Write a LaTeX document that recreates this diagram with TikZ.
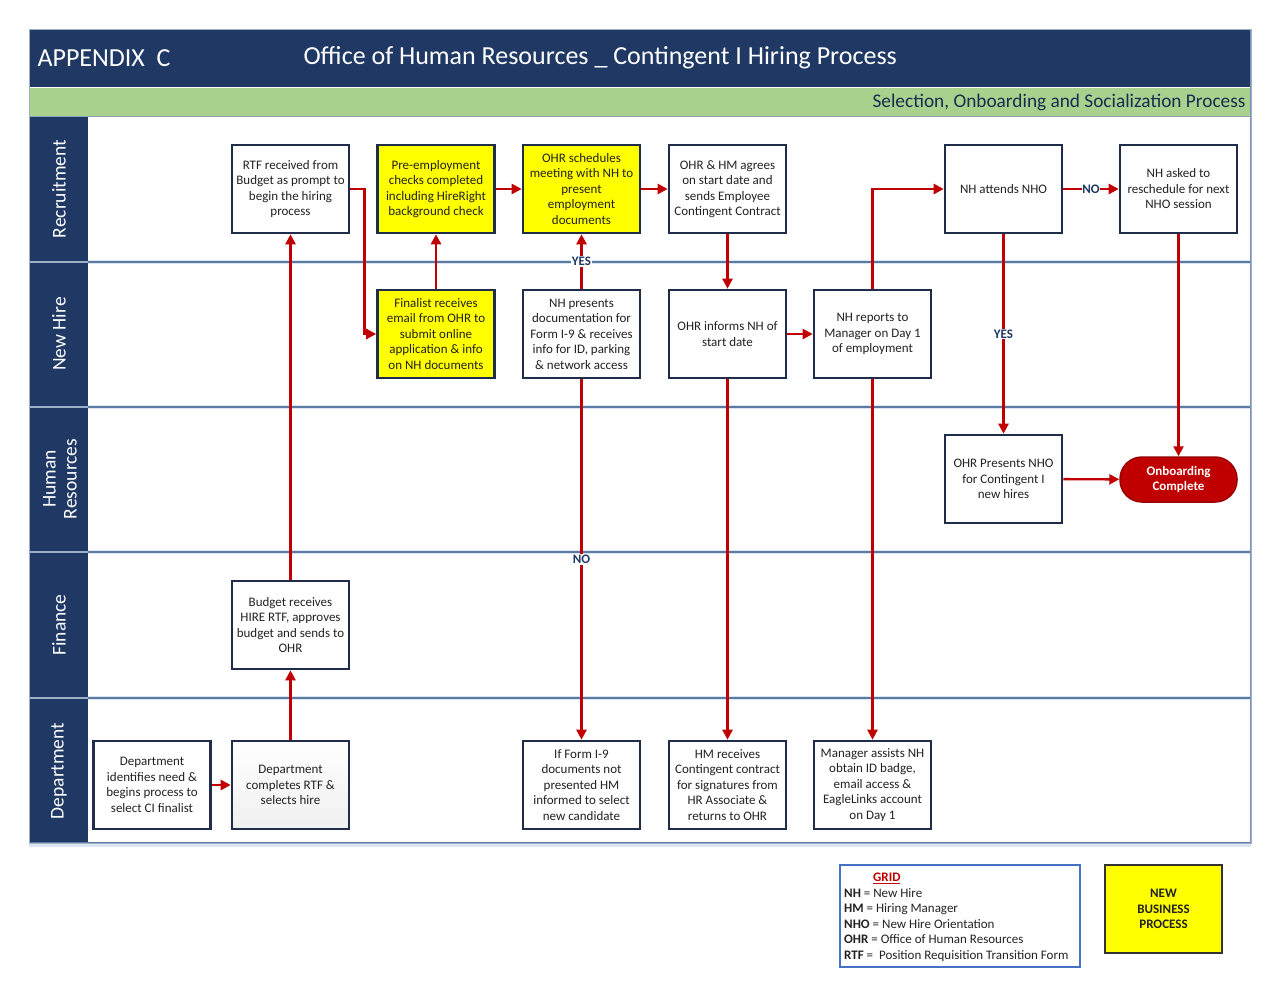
\documentclass[tikz,border=0pt]{standalone}
\usepackage{fontspec}
\setmainfont{Carlito}
\usetikzlibrary{arrows.meta,calc}
\definecolor{navy}{HTML}{1F3864}
\definecolor{greenband}{HTML}{A9D18E}
\definecolor{laneline}{HTML}{5B7BA3}
\definecolor{laneglow}{HTML}{DCE6F2}
\definecolor{boxborder}{HTML}{1F2D4A}
\definecolor{flowred}{HTML}{C00000}
\definecolor{txt}{HTML}{222222}
\definecolor{legblue}{HTML}{4472C4}
\definecolor{newyellow}{HTML}{FFFF00}
\begin{document}
\begin{tikzpicture}[x=1pt,y=-1pt,
  stepbox/.style={draw=boxborder, line width=2.6pt, fill=white, minimum width=117, minimum height=88,
    inner sep=0pt, align=center, text=txt, font=\fontsize{13}{15.5}\selectfont},
  newbox/.style={stepbox, fill=newyellow},
  arr/.style={draw=flowred, line width=2.4pt, -{Triangle[length=10pt,width=10pt]}},
  lbl/.style={fill=white, inner sep=1pt, text=navy, font=\fontsize{13}{14}\selectfont\bfseries},
  lanetext/.style={rotate=90, text=white, align=center, font=\fontsize{19.5}{21}\selectfont}
]
\useasboundingbox (0,0) rectangle (1280,989);
% frame and bands
\fill[white] (29,29) rectangle (1251,843);
\fill[navy] (29,29) rectangle (1251,87);
\fill[greenband] (29,88) rectangle (1251,116);
\draw[laneline!70, line width=1pt] (29,116.5) -- (1251,116.5);
\fill[navy] (29,117) rectangle (88,843);
\foreach \yy in {262,407,552,698}{
  \draw[laneglow, line width=4pt] (88,\yy) -- (1251,\yy);
  \draw[laneline, line width=1.8pt] (88,\yy) -- (1251,\yy);
  \draw[laneline!60, line width=1.2pt] (29,\yy) -- (88,\yy);
}
\draw[laneglow, line width=3pt] (29,845) -- (1251,845);
\draw[laneline, line width=1.8pt] (29,843) -- (1251,843);
\draw[laneline!80, line width=1.8pt] (1251,29) -- (1251,843);
\draw[laneline!60, line width=1pt] (29,29) rectangle (1251,843);
% header texts
\node[anchor=west, text=white, font=\fontsize{26}{28}\selectfont] (appx) at (34,58) {APPENDIX\ \ C};
\node[anchor=west, text=white, font=\fontsize{26}{28}\selectfont] (title) at (300,58) {Office of Human Resources \_ Contingent I Hiring Process};
\node[anchor=east, text=navy!80!black, font=\fontsize{19.3}{21}\selectfont] (sub) at (1249,102) {Selection, Onboarding and Socialization Process};
% lane labels
\node[lanetext] (l1) at (59,189) {Recruitment};
\node[lanetext] (l2) at (59,334) {New Hire};
\node[lanetext] (l3) at (60,479) {Human\\Resources};
\node[lanetext] (l4) at (59,625) {Finance};
\node[lanetext] (l5) at (59,771) {Department};
% boxes
\node[stepbox] (rtf) at (290.5,189) {RTF received from\\Budget as prompt to\\begin the hiring\\process};
\node[newbox] (pre) at (436,189) {Pre-employment\\checks completed\\including HireRight\\background check};
\node[newbox] (sched) at (581.5,189) {OHR schedules\\meeting with NH to\\present\\employment\\documents};
\node[stepbox] (agree) at (727.5,189) {OHR \& HM agrees\\on start date and\\sends Employee\\Contingent Contract};
\node[stepbox] (attend) at (1003.5,189) {NH attends NHO};
\node[stepbox] (resched) at (1178.5,189) {NH asked to\\reschedule for next\\NHO session};
\node[newbox] (final) at (436,334) {Finalist receives\\email from OHR to\\submit online\\application \& info\\on NH documents};
\node[stepbox] (pres) at (581.5,334) {NH presents\\documentation for\\Form I-9 \& receives\\info for ID, parking\\\& network access};
\node[stepbox] (inform) at (727.5,334) {OHR informs NH of\\start date};
\node[stepbox] (report) at (872.5,334) {NH reports to\\Manager on Day 1\\of employment};
\node[stepbox] (nho) at (1003.5,479) {OHR Presents NHO\\for Contingent I\\new hires};
\node[draw=flowred!80!black, line width=1.5pt, fill=flowred, rounded corners=22pt, minimum width=117, minimum height=45,
  inner sep=0pt, align=center, text=white, font=\fontsize{13}{15.5}\selectfont\bfseries] (done) at (1178.5,479.5) {Onboarding\\Complete};
\node[stepbox] (budget) at (290.5,625) {Budget receives\\HIRE RTF, approves\\budget and sends to\\OHR};
\node[stepbox] (deptid) at (152,785) {Department\\identifies need \&\\begins process to\\select CI finalist};
\node[stepbox, top color=white, bottom color=gray!12] (deptc) at (290.5,785) {Department\\completes RTF \&\\selects hire};
\node[stepbox] (i9) at (581.5,785) {If Form I-9\\documents not\\presented HM\\informed to select\\new candidate};
\node[stepbox] (hm) at (727.5,785) {HM receives\\Contingent contract\\for signatures from\\HR Associate \&\\returns to OHR};
\node[stepbox] (mgr) at (872.5,785) {Manager assists NH\\obtain ID badge,\\email access \&\\EagleLinks account\\on Day 1};
% connectors
\draw[arr] (deptid) -- (deptc);
\draw[arr] (deptc) -- (budget);
\draw[arr] (budget) -- (rtf);
\draw[arr] (rtf.east) -- ++(14,0) |- (final.west);
\draw[arr] (final) -- (pre);
\draw[arr] (pre) -- (sched);
\draw[arr] (pres) -- node[lbl, pos=0.5] {YES} (sched);
\draw[arr] (pres) -- node[lbl, pos=0.5] {NO} (i9);
\draw[arr] (sched) -- (agree);
\draw[arr] (agree) -- (inform);
\draw[arr] (inform) -- (report);
\draw[arr] (inform) -- (hm);
\draw[arr] (report.north) |- (attend.west);
\draw[arr] (report) -- (mgr);
\draw[arr] (attend) -- node[lbl, pos=0.5, inner sep=0.5pt] {NO} (resched);
\draw[arr] (attend) -- node[lbl, pos=0.5] {YES} (nho);
\draw[arr] (resched) -- (done);
\draw[arr] (nho) -- (done);
% legend
\draw[legblue, line width=2pt] (840,865) rectangle (1080,967);
\node[anchor=north west, align=left, inner sep=0pt, text=txt, font=\fontsize{13}{15.5}\selectfont] (legend) at (844,873)
 {\hspace{29pt}\textcolor{flowred}{\textbf{\underline{GRID}}}\\
  \textbf{NH} = New Hire\\
  \textbf{HM} = Hiring Manager\\
  \textbf{NHO} = New Hire Orientation\\
  \textbf{OHR} = Office of Human Resources\\
  \textbf{RTF} = \ Position Requisition Transition Form};
\node[stepbox, fill=newyellow, draw=black!80, font=\fontsize{13}{15.5}\selectfont\bfseries] (nbp) at (1163.5,909) {NEW\\BUSINESS\\PROCESS};
\end{tikzpicture}
\end{document}
